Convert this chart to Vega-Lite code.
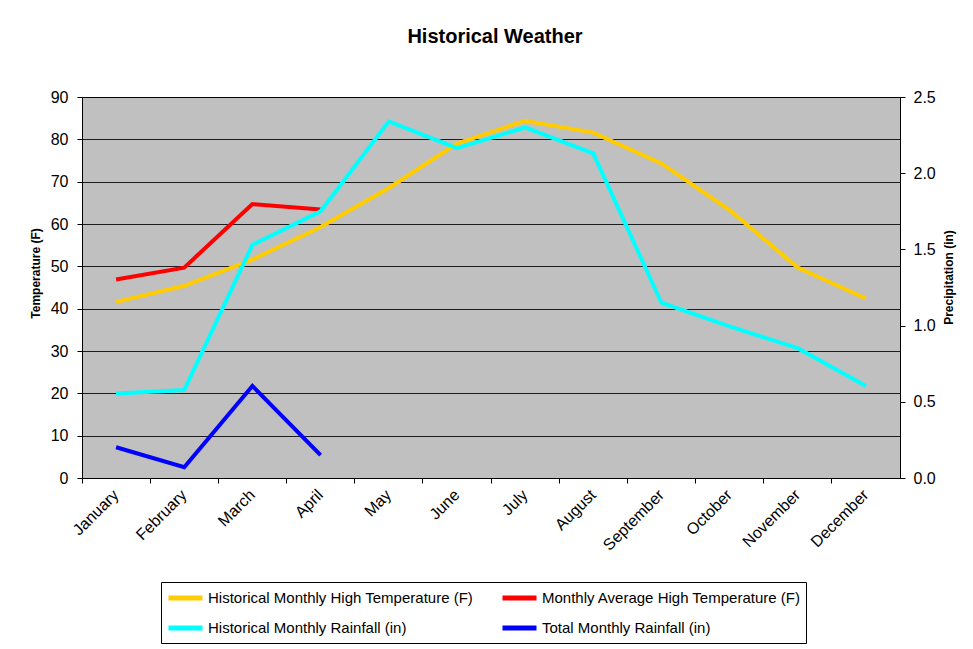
{
  "$schema": "https://vega.github.io/schema/vega-lite/v6.json",
  "width": 818,
  "height": 381,
  "autosize": {"type": "none"},
  "padding": {"left": 82, "top": 97, "right": 73, "bottom": 171},
  "background": "#ffffff",
  "title": {
    "text": "Historical Weather",
    "font": "Liberation Sans",
    "fontSize": 20,
    "fontWeight": "bold",
    "color": "#000000",
    "anchor": "middle",
    "dx": 4,
    "offset": 42
  },
  "config": {
    "view": {"fill": "#C0C0C0", "stroke": "#000000", "strokeWidth": 1},
    "axis": {
      "labelFont": "Liberation Sans",
      "titleFont": "Liberation Sans",
      "labelColor": "#000000",
      "titleColor": "#000000",
      "domainColor": "#000000",
      "tickColor": "#000000"
    }
  },
  "data": {
    "values": [
      {"month": "January", "series": "Historical Monthly High Temperature (F)", "value": 41.6},
      {"month": "February", "series": "Historical Monthly High Temperature (F)", "value": 45.4},
      {"month": "March", "series": "Historical Monthly High Temperature (F)", "value": 51.6},
      {"month": "April", "series": "Historical Monthly High Temperature (F)", "value": 59.3},
      {"month": "May", "series": "Historical Monthly High Temperature (F)", "value": 68.5},
      {"month": "June", "series": "Historical Monthly High Temperature (F)", "value": 79.0},
      {"month": "July", "series": "Historical Monthly High Temperature (F)", "value": 84.4},
      {"month": "August", "series": "Historical Monthly High Temperature (F)", "value": 81.6},
      {"month": "September", "series": "Historical Monthly High Temperature (F)", "value": 74.3},
      {"month": "October", "series": "Historical Monthly High Temperature (F)", "value": 63.3},
      {"month": "November", "series": "Historical Monthly High Temperature (F)", "value": 49.7},
      {"month": "December", "series": "Historical Monthly High Temperature (F)", "value": 42.4},
      {"month": "January", "series": "Monthly Average High Temperature (F)", "value": 46.9},
      {"month": "February", "series": "Monthly Average High Temperature (F)", "value": 49.7},
      {"month": "March", "series": "Monthly Average High Temperature (F)", "value": 64.7},
      {"month": "April", "series": "Monthly Average High Temperature (F)", "value": 63.4},
      {"month": "January", "series": "Historical Monthly Rainfall (in)", "value": 0.555},
      {"month": "February", "series": "Historical Monthly Rainfall (in)", "value": 0.577},
      {"month": "March", "series": "Historical Monthly Rainfall (in)", "value": 1.53},
      {"month": "April", "series": "Historical Monthly Rainfall (in)", "value": 1.75},
      {"month": "May", "series": "Historical Monthly Rainfall (in)", "value": 2.34},
      {"month": "June", "series": "Historical Monthly Rainfall (in)", "value": 2.165},
      {"month": "July", "series": "Historical Monthly Rainfall (in)", "value": 2.30},
      {"month": "August", "series": "Historical Monthly Rainfall (in)", "value": 2.13},
      {"month": "September", "series": "Historical Monthly Rainfall (in)", "value": 1.15},
      {"month": "October", "series": "Historical Monthly Rainfall (in)", "value": 0.995},
      {"month": "November", "series": "Historical Monthly Rainfall (in)", "value": 0.852},
      {"month": "December", "series": "Historical Monthly Rainfall (in)", "value": 0.604},
      {"month": "January", "series": "Total Monthly Rainfall (in)", "value": 0.202},
      {"month": "February", "series": "Total Monthly Rainfall (in)", "value": 0.071},
      {"month": "March", "series": "Total Monthly Rainfall (in)", "value": 0.604},
      {"month": "April", "series": "Total Monthly Rainfall (in)", "value": 0.15}
    ]
  },
  "layer": [
    {
      "transform": [
        {"filter": {"field": "series", "oneOf": ["Historical Monthly High Temperature (F)", "Monthly Average High Temperature (F)"]}}
      ],
      "mark": {"type": "line", "strokeWidth": 4},
      "encoding": {
        "x": {
          "field": "month",
          "type": "nominal",
          "sort": ["January", "February", "March", "April", "May", "June", "July", "August", "September", "October", "November", "December"],
          "scale": {"type": "band", "paddingInner": 0, "paddingOuter": 0},
          "axis": {
            "orient": "bottom",
            "title": null,
            "labels": false,
            "ticks": true,
            "tickSize": 5,
            "bandPosition": 0,
            "domain": true,
            "grid": false
          }
        },
        "y": {
          "field": "value",
          "type": "quantitative",
          "scale": {"domain": [0, 90], "nice": false},
          "axis": {
            "orient": "left",
            "title": "Temperature (F)",
            "titleFontSize": 12,
            "titleFontWeight": "bold",
            "titleAngle": -90,
            "titleX": -47,
            "titleY": 176,
            "titleAlign": "center",
            "titleBaseline": "middle",
            "values": [0, 10, 20, 30, 40, 50, 60, 70, 80, 90],
            "labelFontSize": 16,
            "labelPadding": 9,
            "tickSize": 5,
            "grid": true,
            "gridColor": "#000000",
            "gridWidth": 1,
            "gridOpacity": 0.85
          }
        },
        "color": {
          "field": "series",
          "type": "nominal",
          "scale": {
            "domain": ["Historical Monthly High Temperature (F)", "Monthly Average High Temperature (F)", "Historical Monthly Rainfall (in)", "Total Monthly Rainfall (in)"],
            "range": ["#FFCC00", "#FF0000", "#00FFFF", "#0000FF"]
          },
          "legend": {
            "title": null,
            "orient": "none",
            "legendX": 79,
            "legendY": 485,
            "direction": "horizontal",
            "columns": 2,
            "columnPadding": 18,
            "rowPadding": 9,
            "padding": 5,
            "strokeColor": "#000000",
            "fillColor": "#ffffff",
            "symbolType": "M-1,0H3",
            "symbolSize": 289,
            "symbolStrokeWidth": 5,
            "labelFont": "Liberation Sans",
            "labelFontSize": 15,
            "labelColor": "#000000",
            "labelOffset": 20,
            "labelLimit": 400
          }
        }
      }
    },
    {
      "transform": [
        {"filter": {"field": "series", "oneOf": ["Historical Monthly Rainfall (in)", "Total Monthly Rainfall (in)"]}}
      ],
      "mark": {"type": "line", "strokeWidth": 4},
      "encoding": {
        "x": {
          "field": "month",
          "type": "nominal",
          "sort": ["January", "February", "March", "April", "May", "June", "July", "August", "September", "October", "November", "December"],
          "scale": {"type": "band", "paddingInner": 0, "paddingOuter": 0},
          "axis": {
            "orient": "bottom",
            "title": null,
            "labels": true,
            "ticks": false,
            "domain": false,
            "grid": false,
            "labelAngle": -45,
            "labelAlign": "right",
            "labelBaseline": "middle",
            "labelFontSize": 16,
            "labelPadding": 14
          }
        },
        "y": {
          "field": "value",
          "type": "quantitative",
          "scale": {"domain": [0, 2.5], "nice": false},
          "axis": {
            "orient": "right",
            "title": "Precipitation (in)",
            "titleFontSize": 12,
            "titleFontWeight": "bold",
            "titleAngle": -90,
            "titleX": 48,
            "titleY": 180,
            "titleAlign": "center",
            "titleBaseline": "middle",
            "values": [0, 0.5, 1, 1.5, 2, 2.5],
            "format": ".1f",
            "labelFontSize": 16,
            "labelPadding": 8,
            "tickSize": 5,
            "grid": false
          }
        },
        "color": {
          "field": "series",
          "type": "nominal"
        }
      }
    }
  ],
  "resolve": {
    "scale": {"y": "independent"},
    "axis": {"x": "independent", "y": "independent"}
  }
}
